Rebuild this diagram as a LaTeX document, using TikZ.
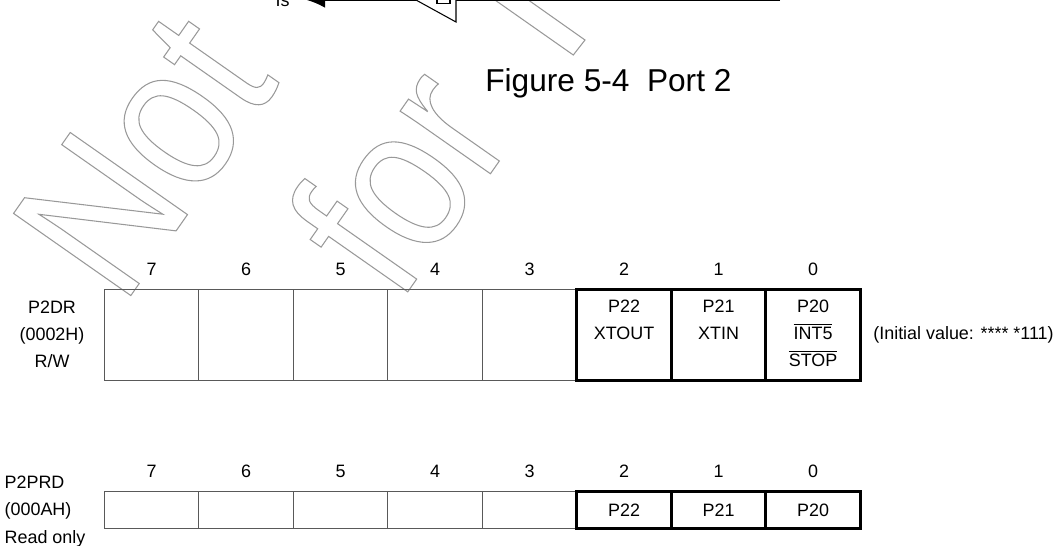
\documentclass[tikz,border=0pt]{standalone}
\usepackage{fontspec}
\setmainfont{Liberation Sans}
\newfontfamily\wmfont[FakeStretch=0.85]{Liberation Sans}
\usepackage{tikz}
\usetikzlibrary{arrows.meta,positioning}
% outline-only glyphs through the pdf driver
\newcommand\hollow[1]{\special{pdf:literal direct 1 Tr 0.6 w}#1\special{pdf:literal direct 0 Tr}}

\begin{document}
\begin{tikzpicture}[
    font=\fontsize{10.2}{15.4}\selectfont,
    node distance=0pt,
    cell/.style={draw=black!65, line width=0.6pt, minimum width=1.89cm, inner sep=0pt, outer sep=0pt},
    hot/.style={draw=black, line width=1.7pt},
    tall/.style={minimum height=1.824cm},
    short/.style={minimum height=0.74cm},
    bitno/.style={inner sep=0pt},
    field/.style={align=center, inner sep=0pt, anchor=north, yshift=-0.206cm},
    regname/.style={inner sep=0pt},
    wmark/.style={text=black!40, inner sep=0pt, anchor=base west, rotate=55,
                  font=\wmfont\fontsize{118.4}{130}\selectfont}
]
    \useasboundingbox (0,0) rectangle (21.26,-10.9);
    \clip (0,0) rectangle (21.26,-10.9);

    % watermark
    \node[wmark] (wmnot) at (2.446,-6.154) {\hollow{Not}};
    \node[wmark] (wmfor) at (7.972,-6.098) {\hollow{for}};
    \draw[black!40, line width=0.6pt] (10.51,0.04) -- (11.7,-0.8) -- (11.466,-1.1) -- (9.842,0.04);

    % cut-off circuit above the caption
    \coordinate (wireend) at (15.6,0);
    \coordinate (wiretip) at (6.14,0);
    \draw[line width=0.6pt, -{Latex[length=0.36cm, width=0.31cm]}] (wireend) -- (wiretip);
    \draw[line width=0.6pt, fill=white] (8.32,0) -- (9.12,0.46) -- (9.12,-0.44) -- cycle;
    \draw[line width=0.6pt] (8.74,0.08) rectangle (9.0,-0.07);
    \node[anchor=base east, inner sep=0pt] (pinname) at (5.8,-0.13) {Is};

    \node[anchor=base west, inner sep=0pt, font=\fontsize{18}{22}\selectfont] (caption) at (9.7,-1.834) {Figure 5-4~~Port 2};

    % P2DR
    \node[cell, tall] (dr7) at (3.031,-6.698) {};
    \node[cell, tall, right=of dr7] (dr6) {};
    \node[cell, tall, right=of dr6] (dr5) {};
    \node[cell, tall, right=of dr5] (dr4) {};
    \node[cell, tall, right=of dr4] (dr3) {};
    \node[cell, hot, tall, right=of dr3] (dr2) {};
    \node[cell, hot, tall, right=of dr2] (dr1) {};
    \node[cell, hot, tall, right=of dr1] (dr0) {};

    \node[bitno, above=0.27cm of dr7] (dr7n) {7};
    \node[bitno, above=0.27cm of dr6] (dr6n) {6};
    \node[bitno, above=0.27cm of dr5] (dr5n) {5};
    \node[bitno, above=0.27cm of dr4] (dr4n) {4};
    \node[bitno, above=0.27cm of dr3] (dr3n) {3};
    \node[bitno, above=0.27cm of dr2] (dr2n) {2};
    \node[bitno, above=0.27cm of dr1] (dr1n) {1};
    \node[bitno, above=0.27cm of dr0] (dr0n) {0};

    \node[field] (dr2txt) at (dr2.north) {P22\\XTOUT};
    \node[field] (dr1txt) at (dr1.north) {P21\\XTIN};
    \node[field] (dr0txt) at (dr0.north) {P20\\\(\overline{\mbox{INT5}}\)\\\(\overline{\mbox{STOP}}\)};

    \node[regname, align=center, anchor=north] (drname) at (1.04,-6.006) {P2DR\\(0002H)\\R/W};
    \node[anchor=base west, inner sep=0pt] (drinit) at (17.46,-6.788) {(Initial value: **** *111)};

    % P2PRD
    \node[cell, short] (prd7) at (3.031,-10.2) {};
    \node[cell, short, right=of prd7] (prd6) {};
    \node[cell, short, right=of prd6] (prd5) {};
    \node[cell, short, right=of prd5] (prd4) {};
    \node[cell, short, right=of prd4] (prd3) {};
    \node[cell, hot, short, right=of prd3] (prd2) {P22};
    \node[cell, hot, short, right=of prd2] (prd1) {P21};
    \node[cell, hot, short, right=of prd1] (prd0) {P20};

    \node[bitno, above=0.27cm of prd7] (prd7n) {7};
    \node[bitno, above=0.27cm of prd6] (prd6n) {6};
    \node[bitno, above=0.27cm of prd5] (prd5n) {5};
    \node[bitno, above=0.27cm of prd4] (prd4n) {4};
    \node[bitno, above=0.27cm of prd3] (prd3n) {3};
    \node[bitno, above=0.27cm of prd2] (prd2n) {2};
    \node[bitno, above=0.27cm of prd1] (prd1n) {1};
    \node[bitno, above=0.27cm of prd0] (prd0n) {0};

    \node[regname, align=left, anchor=north west, font=\fontsize{10.2}{15.6}\selectfont] (prdname) at (0.086,-9.506) {P2PRD\\(000AH)\\Read only};
\end{tikzpicture}
\end{document}
